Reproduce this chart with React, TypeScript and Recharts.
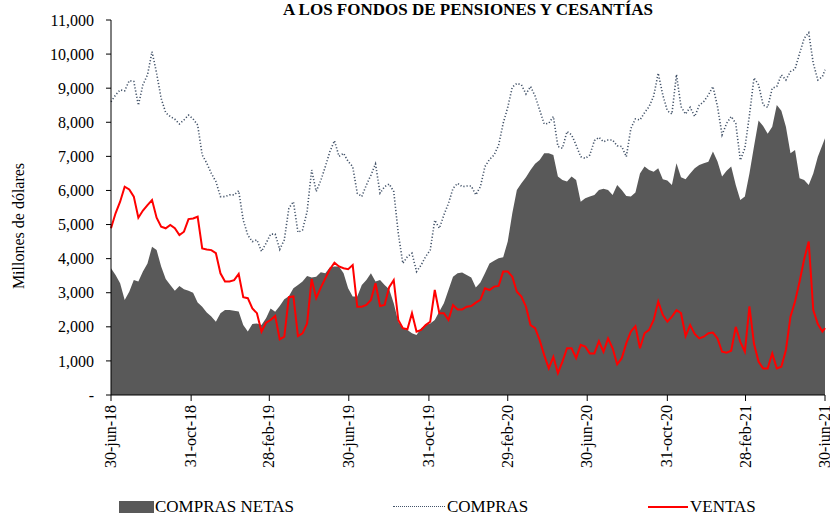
import { ComposedChart, Area, Line, XAxis, YAxis } from 'recharts';

// fechas de las marcas del eje (días desde 30-jun-18)
const tickLabels = ['30-jun-18', '31-oct-18', '28-feb-19', '30-jun-19', '31-oct-19', '29-feb-20', '30-jun-20', '31-oct-20', '28-feb-21', '30-jun-21'];
const tickDays = [0, 123, 243, 365, 488, 609, 731, 854, 974, 1096];

// series semanales, millones de dólares
const compras = [
  8600, 8800, 8950, 8920, 9220, 9200, 8500, 9100, 9390, 10070, 9440, 8700, 8280, 8170, 8090, 7950, 8070, 8210, 8100, 7920, 7040, 6800, 6500, 6260, 5820, 5820, 5870,
  5870, 5990, 5130, 4690, 4500, 4550, 4210, 4450, 4720, 4720, 4270, 4550, 5480, 5670, 4770, 4840, 5380, 6600, 5970, 6290, 6700, 7140, 7460, 7000, 7090, 6850,
  6700, 5920, 5820, 6160, 6450, 6780, 5920, 6110, 6190, 5970, 4740, 3860, 4060, 4160, 3620, 3810, 4060, 4250, 5130, 4890, 5280, 5620, 6060, 6210, 6110, 6130,
  6130, 5870, 6110, 6700, 6910, 7040, 7330, 7970, 8440, 9030, 9140, 9100, 8830, 9050, 8770, 8360, 7950, 7970, 8170, 7290, 7240, 7730, 7630, 7330, 6990, 6940, 7040,
  7460, 7560, 7430, 7480, 7480, 7310, 7290, 6990, 7820, 8100, 8070, 8280, 8460, 8770, 9440, 8800, 8340, 8240, 9400, 8460, 8240, 8440, 8170, 8500, 8610, 8800,
  9050, 8460, 7630, 7970, 8170, 7970, 6890, 7240, 8200, 9300, 9100, 8510, 8440, 9000, 9050, 9390, 9240, 9490, 9560, 10020, 10460, 10630, 9730, 9240, 9340, 9540,
];

const ventas = [
  4890, 5330, 5670, 6110, 6030, 5820, 5200, 5410, 5570, 5720, 5200, 4940, 4890, 4990, 4890, 4690, 4790, 5160, 5180, 5230, 4300, 4270, 4250, 4160, 3570, 3330, 3330,
  3370, 3550, 2870, 2840, 2540, 2400, 1860, 2120, 2200, 2320, 1630, 1710, 2870, 2890, 1730, 1810, 2100, 3400, 2840, 3150, 3420, 3690, 3880, 3770, 3720, 3690,
  3810, 2590, 2590, 2640, 2790, 3280, 2610, 2640, 3160, 3370, 2200, 1960, 1930, 2400, 1860, 1910, 2050, 2150, 3080, 2400, 2400, 2200, 2640, 2510, 2510, 2590,
  2610, 2710, 2790, 3130, 3080, 3180, 3200, 3620, 3620, 3470, 3030, 2890, 2590, 2050, 1960, 1610, 1170, 780, 1120, 640, 980, 1370, 1370, 1080, 1470, 1420, 1220,
  1220, 1580, 1270, 1660, 1370, 900, 1080, 1520, 1860, 2020, 1370, 1810, 1910, 2200, 2740, 2350, 2150, 2300, 2490, 2400, 1730, 2050, 1790, 1660, 1710, 1810,
  1830, 1660, 1270, 1240, 1300, 2000, 1560, 1270, 2600, 1500, 980, 780, 780, 1220, 780, 830, 1320, 2300, 2740, 3330, 3980, 4500, 2490, 2080, 1860, 1960,
];

const comprasNetas = [
  3720, 3520, 3280, 2790, 3030, 3370, 3330, 3620, 3860, 4350, 4250, 3770, 3400, 3230, 3060, 3200, 3100, 3060, 3000, 2710, 2590, 2420, 2300, 2150, 2400, 2490, 2490,
  2470, 2450, 2050, 1860, 2080, 2100, 2050, 2250, 2540, 2440, 2610, 2810, 2900, 3130, 3230, 3330, 3490, 3450, 3470, 3600, 3570, 3750, 3770, 3770, 3570, 3130,
  2890, 2890, 3230, 3370, 3570, 3330, 3370, 3230, 3100, 2690, 2150, 1960, 1910, 1810, 1760, 1960, 2050, 2100, 2200, 2450, 2690, 3080, 3470, 3570, 3590, 3520,
  3450, 3150, 3300, 3570, 3860, 3940, 4010, 4040, 4500, 5330, 6010, 6210, 6390, 6600, 6780, 6890, 7090, 7090, 7040, 6410, 6310, 6260, 6410, 6310, 5670, 5770, 5820,
  5870, 6010, 6050, 6010, 5870, 6160, 6010, 5840, 5820, 5940, 6500, 6700, 6600, 6550, 6650, 6330, 6290, 6160, 6800, 6390, 6330, 6500, 6650, 6750, 6800, 6840,
  7140, 6850, 6410, 6580, 6700, 6160, 5720, 5820, 6500, 7290, 8050, 7890, 7660, 7870, 8510, 8340, 7870, 7090, 7190, 6360, 6310, 6160, 6500, 6990, 7330, 7530,
];

const LAST_DAY = 1096;
const data = compras.map((c, i) => ({
  dia: Math.min(i * 7, LAST_DAY),
  compras: c,
  ventas: ventas[i],
  netas: comprasNetas[i],
}));

const FONT = '"Liberation Serif", "Times New Roman", serif';
const GRIS = '#595959';
const AZUL = '#44546A';
const ROJO = '#FF0000';

const XTick = ({ x, y, payload }: any) => {
  const idx = tickDays.indexOf(payload.value);
  return (
    <text
      x={x}
      y={y}
      dx={-2}
      dy={5}
      transform={`rotate(-90, ${x}, ${y})`}
      textAnchor="end"
      fontFamily={FONT}
      fontSize={16}
      fill="#000"
    >
      {tickLabels[idx]}
    </text>
  );
};

const fmtY = (v: number) => (v === 0 ? '-' : v.toLocaleString('en-US'));

export default function App() {
  return (
    <div style={{ position: 'absolute', left: 0, top: 0, width: 830, height: 515, background: '#fff', fontFamily: FONT }}>
      <div style={{ position: 'absolute', left: 111, width: 714, top: 0, textAlign: 'center', fontWeight: 'bold', fontSize: 17, lineHeight: '19px', whiteSpace: 'nowrap' }}>
        A LOS FONDOS DE PENSIONES Y CESANTÍAS
      </div>
      <div
        style={{
          position: 'absolute',
          left: 19,
          top: 226,
          transform: 'translate(-50%, -50%) rotate(-90deg)',
          fontSize: 16,
          whiteSpace: 'nowrap',
        }}
      >
        Millones de dólares
      </div>
      <ComposedChart width={830} height={515} data={data} margin={{ top: 20, right: 5, left: 0, bottom: 0 }}>
        <XAxis
          dataKey="dia"
          type="number"
          domain={[0, LAST_DAY]}
          ticks={tickDays}
          tick={<XTick />}
          tickSize={6}
          tickMargin={2}
          height={120}
          stroke="#000"
          interval={0}
        />
        <YAxis
          domain={[0, 11000]}
          ticks={[0, 1000, 2000, 3000, 4000, 5000, 6000, 7000, 8000, 9000, 10000, 11000]}
          tickFormatter={fmtY}
          width={111}
          tickSize={5}
          tickMargin={12}
          stroke="#000"
          tick={{ fill: '#000', fontFamily: FONT, fontSize: 16 }}
          allowDataOverflow
        />
        <Area type="linear" dataKey="netas" stroke="none" fill={GRIS} fillOpacity={1} isAnimationActive={false} />
        <Line type="linear" dataKey="compras" stroke={AZUL} strokeWidth={1.6} strokeDasharray="1.2 2" dot={false} isAnimationActive={false} />
        <Line type="linear" dataKey="ventas" stroke={ROJO} strokeWidth={2} dot={false} isAnimationActive={false} />
      </ComposedChart>
      <div style={{ position: 'absolute', top: 497, left: 0, width: 830, height: 18, fontSize: 17 }}>
        <div style={{ position: 'absolute', left: 119, top: 4, width: 35, height: 12, background: GRIS }} />
        <div style={{ position: 'absolute', left: 155, top: 0 }}>COMPRAS NETAS</div>
        <div style={{ position: 'absolute', left: 393, top: 9, width: 52, borderTop: `1.5px dotted ${AZUL}` }} />
        <div style={{ position: 'absolute', left: 447, top: 0 }}>COMPRAS</div>
        <div style={{ position: 'absolute', left: 648, top: 9, width: 40, height: 2, background: ROJO }} />
        <div style={{ position: 'absolute', left: 690, top: 0 }}>VENTAS</div>
      </div>
    </div>
  );
}
